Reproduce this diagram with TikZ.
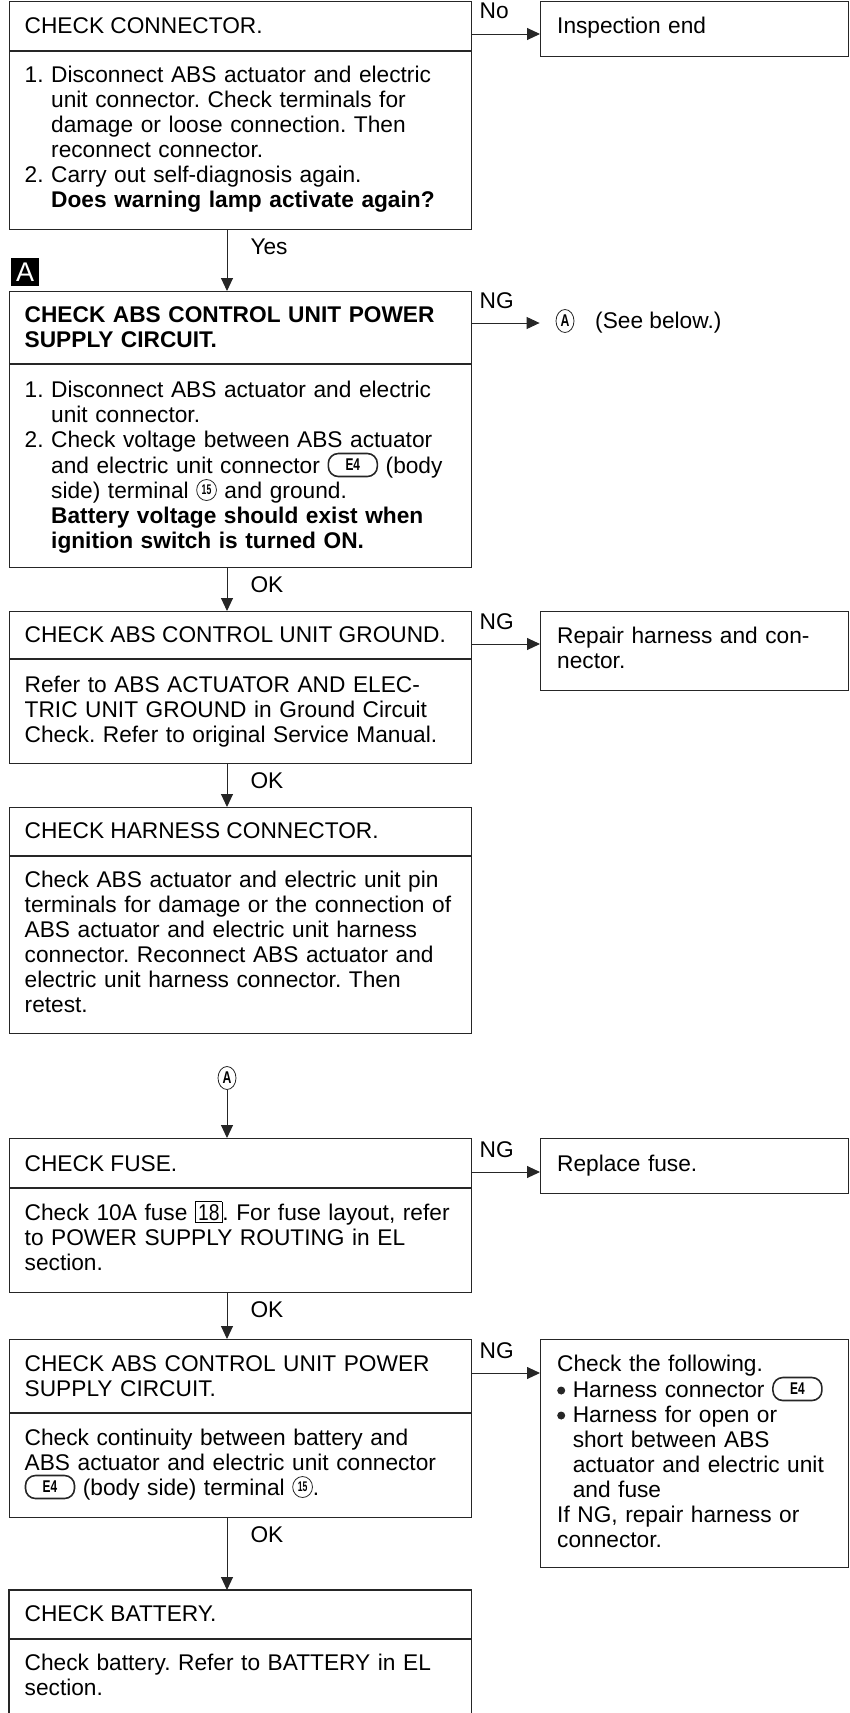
\documentclass[tikz,border=0pt]{standalone}
\usepackage{fontspec}
\setmainfont{Liberation Sans}
\usetikzlibrary{arrows.meta,shapes.geometric}
\setlength\lineskiplimit{-30pt}
\frenchspacing

\newcommand{\txtsize}{\fontsize{22.7}{25}\selectfont}
\newcommand{\ind}{\phantom{1.\ }}
% bullet, connector and terminal marks inside the text
\newcommand{\blt}{\tikz[baseline=0pt]\fill[black!85] (4pt,6.5pt) circle[radius=4pt];\ }
\newcommand{\bul}{\phantom{\blt}}
\newcommand{\connsym}[1]{\tikz[baseline={([yshift=-8pt]cn.center)}]\node[draw=black!85, line width=1.6pt, rounded corners=10pt, minimum width=49pt, minimum height=23pt, inner sep=0pt, text width=30pt, align=center, anchor=center, font=\bfseries\fontsize{17}{17}\selectfont] (cn) {\scalebox{0.7}[1]{#1}};}
\newcommand{\termsym}[1]{\tikz[baseline={([yshift=-8pt]tm.center)}]\node[draw=black!85, ellipse, line width=0.8pt, minimum width=18pt, minimum height=21pt, inner sep=0pt, text width=14pt, align=center, anchor=center, font=\bfseries\fontsize{14}{14}\selectfont] (tm) {\scalebox{0.62}[1]{#1}};}
\newcommand{\fusesym}[1]{{\setlength\fboxsep{2.2pt}\setlength\fboxrule{0.8pt}\fbox{\scalebox{0.85}[1]{#1}}}}

\tikzset{
  boxline/.style={draw=black!85, line width=1.2pt},
  stepbox/.style={boxline, rectangle, anchor=north west, inner sep=0pt, minimum width=462pt},
  endbox/.style={boxline, rectangle, anchor=north west, inner sep=0pt, minimum width=308pt},
  divider/.style={draw=black!85, line width=2.5pt},
  txt/.style={anchor=base west, inner sep=0pt, align=left, text width=#1, font=\txtsize},
  txt/.default=445pt,
  lbl/.style={anchor=base west, inner sep=0pt, font=\txtsize},
  arr/.style={draw=black!85, line width=1pt, -{Triangle[length=13pt,width=12pt]}},
  refmark/.style={draw=black!85, ellipse, line width=0.8pt, minimum width=18pt, minimum height=23pt, inner sep=0pt, font=\bfseries\fontsize{17}{17}\selectfont},
}

\begin{document}
\begin{tikzpicture}[x=1pt, y=-1pt]
\useasboundingbox (0,0) rectangle (850,1713);
\coordinate (sp) at (227,0);

% check connector
\node[stepbox, minimum height=228pt] (s1) at (9,1) {};
\draw[divider] (s1.west |- 0,51) -- (s1.east |- 0,51);
\node[lbl] (t1) at (24.5,33) {CHECK CONNECTOR.};
\node[txt] (b1) at (24.5,82) {1. Disconnect ABS actuator and electric\\
\ind unit connector. Check terminals for\\
\ind damage or loose connection. Then\\
\ind reconnect connector.\\
2. Carry out self-diagnosis again.\\
\ind\textbf{Does warning lamp activate again?}};
\node[endbox, minimum height=55pt] (r1) at (540,1) {};
\node[txt=280pt] (e1) at (557,33) {Inspection end};
\draw[arr] ([yshift=-33pt]s1.north east) -- node[lbl, at start, xshift=7pt, yshift=15pt] {No} ([yshift=-33pt]s1.north east -| r1.west);

% power supply
\node[fill=black, text=white, minimum size=28pt, inner sep=0pt, anchor=north west, font=\fontsize{27}{27}\selectfont] (mA) at (11,258) {A};
\node[stepbox, minimum height=276pt] (s2) at (9,291) {};
\draw[divider] (s2.west |- 0,364) -- (s2.east |- 0,364);
\node[txt, font=\txtsize\bfseries] (t2) at (24.5,322) {CHECK ABS CONTROL UNIT POWER\\SUPPLY CIRCUIT.};
\node[txt] (b2) at (24.5,397) {1. Disconnect ABS actuator and electric\\
\ind unit connector.\\
2. Check voltage between ABS actuator\\
\ind and electric unit connector \connsym{E4} (body\\
\ind side) terminal \termsym{15} and ground.\\
\ind\textbf{Battery voltage should exist when}\\
\ind\textbf{ignition switch is turned ON.}};
\node[refmark] (ca) at (565,321) {\scalebox{0.72}[1]{A}};
\node[lbl] (sb) at (595,328) {(See below.)};
\draw[arr] ([yshift=-32pt]s2.north east) -- node[lbl, at start, xshift=7pt, yshift=15pt] {NG} ([yshift=-32pt]s2.north east -| ca.west) [shorten >=16pt];
\draw[arr] (s1.south -| sp) -- node[lbl, at start, xshift=23pt, yshift=-24pt] {Yes} (s2.north -| sp);

% ground
\node[stepbox, minimum height=152pt] (s3) at (9,611) {};
\draw[divider] (s3.west |- 0,659) -- (s3.east |- 0,659);
\node[lbl] (t3) at (24.5,642) {CHECK ABS CONTROL UNIT GROUND.};
\node[txt] (b3) at (24.5,692) {Refer to ABS ACTUATOR AND ELEC-\\
TRIC UNIT GROUND in Ground Circuit\\
Check. Refer to original Service Manual.};
\node[endbox, minimum height=79pt] (r3) at (540,611) {};
\node[txt=280pt] (e3) at (557,643) {Repair harness and con-\\nector.};
\draw[arr] ([yshift=-33pt]s3.north east) -- node[lbl, at start, xshift=7pt, yshift=15pt] {NG} ([yshift=-33pt]s3.north east -| r3.west);
\draw[arr] (s2.south -| sp) -- node[lbl, at start, xshift=23pt, yshift=-24pt] {OK} (s3.north -| sp);

% harness connector
\node[stepbox, minimum height=226pt] (s4) at (9,807) {};
\draw[divider] (s4.west |- 0,856) -- (s4.east |- 0,856);
\node[lbl] (t4) at (24.5,838) {CHECK HARNESS CONNECTOR.};
\node[txt] (b4) at (24.5,887) {Check ABS actuator and electric unit pin\\
terminals for damage or the connection of\\
ABS actuator and electric unit harness\\
connector. Reconnect ABS actuator and\\
electric unit harness connector. Then\\
retest.};
\draw[arr] (s3.south -| sp) -- node[lbl, at start, xshift=23pt, yshift=-24pt] {OK} (s4.north -| sp);

% fuse
\node[refmark] (cb) at (227,1078) {\scalebox{0.72}[1]{A}};
\node[stepbox, minimum height=154pt] (s5) at (9,1138) {};
\draw[divider] (s5.west |- 0,1188) -- (s5.east |- 0,1188);
\node[lbl] (t5) at (24.5,1171) {CHECK FUSE.};
\node[txt] (b5) at (24.5,1220) {Check 10A fuse \fusesym{18}. For fuse layout, refer\\
to POWER SUPPLY ROUTING in EL\\
section.};
\node[endbox, minimum height=55pt] (r5) at (540,1138) {};
\node[txt=280pt] (e5) at (557,1171) {Replace fuse.};
\draw[arr] ([yshift=-34pt]s5.north east) -- node[lbl, at start, xshift=7pt, yshift=15pt] {NG} ([yshift=-34pt]s5.north east -| r5.west);
\draw[arr] (cb.south) -- (s5.north -| sp);

% supply circuit
\node[stepbox, minimum height=178pt] (s6) at (9,1339) {};
\draw[divider] (s6.west |- 0,1413) -- (s6.east |- 0,1413);
\node[txt] (t6) at (24.5,1371) {CHECK ABS CONTROL UNIT POWER\\SUPPLY CIRCUIT.};
\node[txt] (b6) at (24.5,1445) {Check continuity between battery and\\
ABS actuator and electric unit connector\\
\connsym{E4} (body side) terminal \termsym{15}.};
\node[endbox, minimum height=228pt] (r6) at (540,1339) {};
\node[txt=290pt] (e6) at (557,1371) {Check the following.\\
\blt Harness connector \connsym{E4}\\
\blt Harness for open or\\
\bul short between ABS\\
\bul actuator and electric unit\\
\bul and fuse\\
If NG, repair harness or\\
connector.};
\draw[arr] ([yshift=-34pt]s6.north east) -- node[lbl, at start, xshift=7pt, yshift=15pt] {NG} ([yshift=-34pt]s6.north east -| r6.west);
\draw[arr] (s5.south -| sp) -- node[lbl, at start, xshift=23pt, yshift=-24pt] {OK} (s6.north -| sp);

% battery
\node[anchor=north west, inner sep=0pt, minimum width=462pt, minimum height=124pt] (s7) at (9,1590) {};
\draw[boxline] (s7.south west) -- (s7.north west) -- (s7.north east) -- (s7.south east);
\draw[divider] (s7.west |- 0,1639) -- (s7.east |- 0,1639);
\node[lbl] (t7) at (24.5,1621) {CHECK BATTERY.};
\node[txt] (b7) at (24.5,1670) {Check battery. Refer to BATTERY in EL\\
section.};
\draw[arr] (s6.south -| sp) -- node[lbl, at start, xshift=23pt, yshift=-24pt] {OK} (s7.north -| sp);
\end{tikzpicture}
\end{document}
